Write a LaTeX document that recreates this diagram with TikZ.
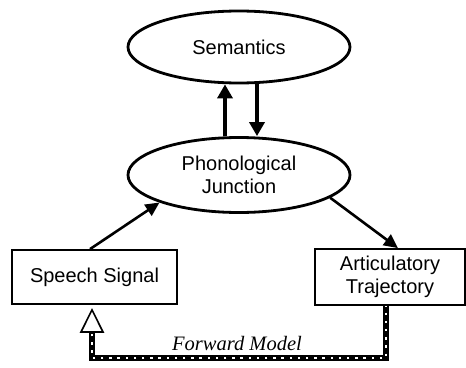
\documentclass[tikz,border=0pt]{standalone}
\usepackage{fontspec}
\setmainfont{Liberation Sans}
\newfontfamily\fmserif{Liberation Serif}
\usetikzlibrary{arrows.meta,shapes.geometric}
\begin{document}
\begin{tikzpicture}[x=1pt,y=-1pt,
  lbl/.style={font=\fontsize{20}{23.5}\selectfont, align=center},
  oval/.style={ellipse, draw, line width=2.8pt, inner sep=0pt, lbl},
  box/.style={rectangle, draw, line width=1.8pt, inner sep=0pt, lbl},
  arr/.style={line width=2.6pt, -{Triangle[length=14pt,width=13pt]}},
  arrthick/.style={line width=3.8pt, -{Triangle[length=14pt,width=15pt]}},
  fwd/.style={line width=5.5pt, postaction={draw=white, line width=2.4pt, dash pattern=on 2.4pt off 5.8pt, dash phase=1.5pt}},
  openhead/.style={line width=1.6pt, line join=miter, fill=white}]
\useasboundingbox (0,0) rectangle (466,367);
\node[oval, minimum width=222pt, minimum height=72pt] (sem) at (239,47) {Semantics};
\node[oval, minimum width=222pt, minimum height=75pt] (phon) at (239,175) {Phonological\\Junction};
\node[box, minimum width=165pt, minimum height=54pt] (speech) at (94.5,277) {Speech Signal};
\node[box, minimum width=150pt, minimum height=56pt] (art) at (390,277) {Articulatory\\Trajectory};
\node[font=\fmserif\itshape\fontsize{20.5}{24}\selectfont] (fm) at (237,343) {Forward Model};
\draw[arrthick] ([xshift=-14pt]phon.north) -- ([xshift=-14pt]sem.south);
\draw[arrthick] ([xshift=18pt]sem.south) -- ([xshift=18pt]phon.north);
\draw[arr] ([xshift=-4.5pt]speech.north) -- (phon.south west);
\draw[arr] (phon.-14) -- ([xshift=8pt]art.north);
\coordinate (tb) at (92,332);
\draw[fwd] ([xshift=-4pt]art.south) -- ++(0,52) -| ([yshift=1pt]tb);
\draw[openhead] (tb) ++(-11,0) -- ++(22,0) -- ([yshift=-5pt]speech.south -| tb) -- cycle;
\end{tikzpicture}
\end{document}
